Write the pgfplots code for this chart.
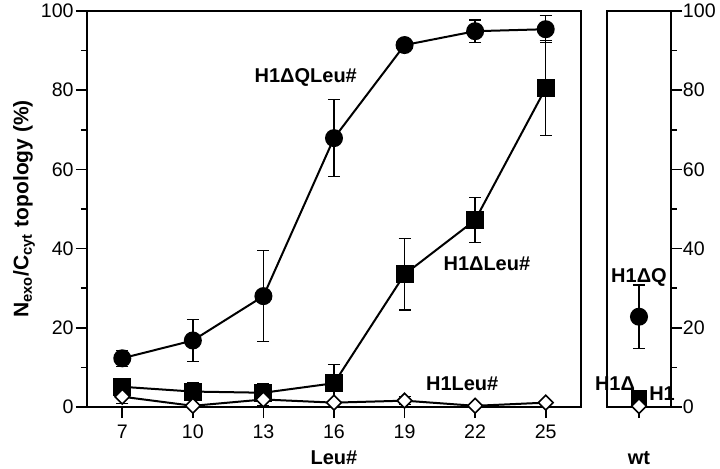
\documentclass[border=0pt]{standalone}
\usepackage{fontspec}
\setmainfont{Liberation Sans}
\usepackage{pgfplots}
\usepackage{pgfplotstable}
\pgfplotsset{compat=1.18}

% H1DeltaQLeu# (filled circles)
\pgfplotstableread{
x y e
7 12.3 2.0
10 16.8 5.3
13 28.0 11.5
16 67.9 9.7
19 91.4 0.8
22 94.9 2.8
25 95.4 3.4
}\qleu

% H1DeltaLeu# (filled squares)
\pgfplotstableread{
x y e
7 5.1 1.3
10 3.9 2.2
13 3.6 2.2
16 6.0 4.8
19 33.5 9.0
22 47.2 5.7
25 80.5 12.0
}\dleu

% H1Leu# (open diamonds)
\pgfplotstableread{
x y e
7 2.6 1.7
10 0.3 0.3
13 1.9 1.5
16 1.1 0.5
19 1.6 1.0
22 0.3 0.3
25 1.1 0.5
}\hleu

\begin{document}
\begin{tikzpicture}[font=\fontsize{10.5}{12.6}\selectfont]
\path[use as bounding box] (-43.5pt,-30.5pt) rectangle (316.5pt,203.5pt);
\pgfplotsset{
  panel/.style={
    scale only axis, height=198pt,
    ymin=0, ymax=100, ytick={0,20,...,100}, minor y tick num=1,
    tick align=outside, major tick length=5.5pt, minor tick length=3pt,
    axis line style={line width=0.8pt},
    every tick/.style={black, line width=0.8pt},
    tick label style={font=\fontsize{9.8}{11}\selectfont},
    /pgf/number format/assume math mode=true,
    clip=false,
    xlabel style={at={(axis description cs:0.5,0)}, anchor=center, yshift=-25.5pt, font=\bfseries},
  },
  ebar/.style={
    error bars/y dir=both, error bars/y explicit,
    error bars/error bar style={line width=0.7pt},
    error bars/error mark options={rotate=90, mark size=3pt, line width=0.7pt}},
  circ/.style={black, line width=1pt, mark=*, mark size=4pt, ebar},
  sq/.style={black, line width=1pt, mark=square*, mark size=4pt, ebar},
  dia/.style={black, line width=1pt, mark=square*, mark size=2.6pt,
    mark options={rotate=45, fill=white, draw=black, line width=0.8pt}, ebar},
}
\begin{axis}[panel, at={(0pt,0pt)}, anchor=south west, width=247pt,
    xmin=5.5, xmax=26.5, xtick={7,10,...,25},
    xtick pos=bottom, ytick pos=left,
    yticklabel style={inner xsep=1pt},
    xlabel={Leu\#},
    ylabel={\bfseries N\textsubscript{exo}/C\textsubscript{cyt} topology (\%)},
    ylabel style={xshift=0pt, yshift=-1.5pt},
]
\addplot[circ] table[x=x, y=y, y error=e] {\qleu};
\addplot[sq] table[x=x, y=y, y error=e] {\dleu};
\addplot[dia] table[x=x, y=y, y error=e] {\hleu};
\node[font=\bfseries] at (axis cs:14.8,83.3) {H1ΔQLeu\#};
\node[font=\bfseries] at (axis cs:22.5,36.1) {H1ΔLeu\#};
\node[font=\bfseries] at (axis cs:21.45,5.8) {H1Leu\#};
\end{axis}

\begin{axis}[panel, at={(260pt,0pt)}, anchor=south west, width=32pt,
    xmin=-1, xmax=1, xtick={0}, xticklabels={},
    xtick pos=bottom, ytick pos=right, yticklabel pos=right,
    yticklabel style={inner xsep=0.3pt},
    xlabel={wt},
]
\addplot[circ] coordinates {(0,22.8) +- (0,8)};
\addplot[sq, mark size=3.5pt] coordinates {(0,2.3)};
\addplot[dia] coordinates {(0,0.2)};
\node[font=\bfseries] at (axis cs:0,32.8) {H1ΔQ};
\node[font=\bfseries] at (axis cs:-0.75,6.0) {H1Δ};
\node[font=\bfseries] at (axis cs:0.72,3.3) {H1};
\end{axis}
\end{tikzpicture}
\end{document}
